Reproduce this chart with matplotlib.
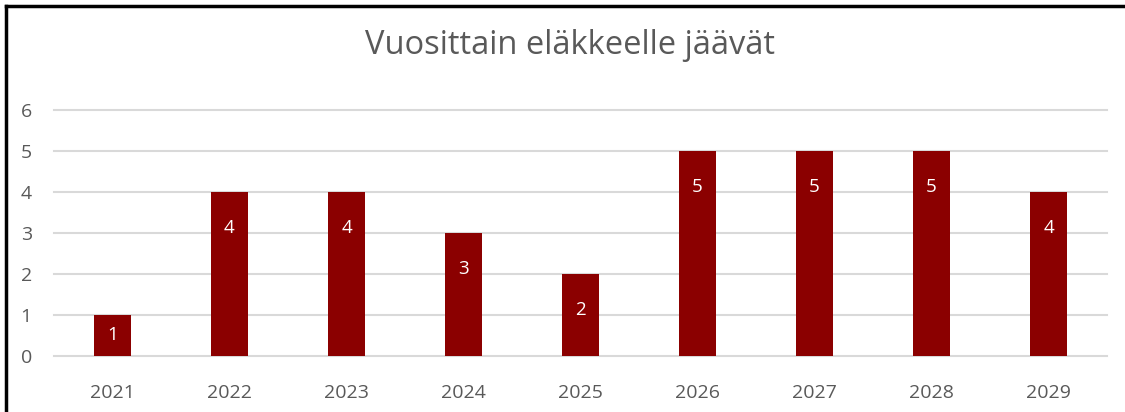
import numpy as np
from matplotlib import pyplot as plt
from matplotlib.lines import Line2D

years = ['2021', '2022', '2023', '2024', '2025', '2026', '2027', '2028', '2029']
retiring = [1, 4, 4, 3, 2, 5, 5, 5, 4]
title = 'Vuosittain eläkkeelle jäävät'

plt.rcParams['font.family'] = ['Open Sans', 'DejaVu Sans']
fig = plt.figure(figsize=(11.25, 4.12), dpi=100)
ax = fig.add_axes([54/1125, 1-356/412, (1107-54)/1125, (356-110)/412])

x = np.arange(len(years))
ax.bar(x, retiring, width=0.32, color='#8B0000', zorder=3)

# data labels, inside end
for xi, v in zip(x, retiring):
    ax.text(xi, max(v - 0.88, v/2.0), str(v), color='white', fontsize=13.5,
            ha='center', va='center', zorder=4)

ax.set_xlim(-0.5, len(years)-0.5)
ax.set_ylim(0, 6)
ax.set_yticks(range(0, 7))
ax.set_xticks(x)
ax.set_xticklabels(years)
ax.tick_params(axis='both', length=0, colors='#595959', labelsize=14)
ax.tick_params(axis='y', pad=16)
ax.tick_params(axis='x', pad=20)
ax.grid(axis='y', color='#d9d9d9', lw=1.5, zorder=0)
for gl in ax.get_ygridlines():
    gl.set_clip_on(False)
for s in ax.spines.values():
    s.set_visible(False)

fig.text(570/1125, 1-45/412, title, ha='center', va='center', fontsize=23.5, color='#595959')

# chart frame (left and top edges visible)
fig.add_artist(Line2D([6/1125, 6/1125], [0, 1-6/412], color='black', lw=2.5, transform=fig.transFigure))
fig.add_artist(Line2D([6/1125, 1], [1-6/412, 1-6/412], color='black', lw=2.5, transform=fig.transFigure))

plt.savefig('out.png', dpi=100)
